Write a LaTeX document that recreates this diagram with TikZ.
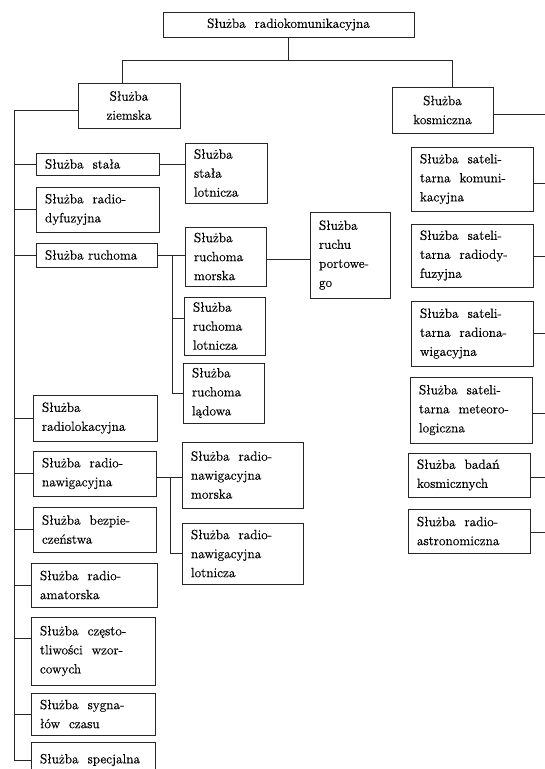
\documentclass[tikz,border=0pt]{standalone}
\usepackage{fontspec}
\newfontfamily\scanfont{Latin Modern Roman}[FakeBold=0.35]
\begin{document}
\begin{tikzpicture}[x=1pt,y=-1pt,
  svc/.style={draw=black!85, line width=0.85pt, inner xsep=9pt, inner ysep=0pt,
              align=left, font=\scanfont\fontsize{13.4}{19}\selectfont},
  hub/.style={svc, align=center},
  wire/.style={draw=black!85, line width=0.85pt}]
% service box: style, name, left, top, right, bottom, text
\newcommand\svcbox[7]{%
  \pgfmathsetmacro\bw{#5-#3}%
  \pgfmathsetmacro\bh{#6-#4}%
  \pgfmathsetmacro\tw{#5-#3-18}%
  \node[#1, text width=\tw pt, minimum width=\bw pt, minimum height=\bh pt]
    (#2) at ({(#3+#5)/2},{(#4+#6)/2}) {#7};}

\clip (0,0) rectangle (545,769);
\fill[white] (0,0) rectangle (545,769);

% root and the two main branches
\svcbox{hub}{top}{163}{12}{414}{37}{Służba\ \ radiokomunikacyjna}
\svcbox{hub}{zi}{78}{83}{180}{128}{Służba\\ziemska}
\svcbox{hub}{ko}{392}{87}{493}{133}{Służba\\kosmiczna}

% terrestrial services
\svcbox{svc}{st}{36}{153}{159}{175}{Służba\ \ stała}
\svcbox{svc}{rdf}{36}{187}{159}{232}{Służba\ \ radio-\\dyfuzyjna}
\svcbox{svc}{ru}{36}{243}{157}{267}{Służba ruchoma}
\svcbox{svc}{rlk}{33}{395}{157}{441}{Służba\\radiolokacyjna}
\svcbox{svc}{rn}{33}{451}{156}{496}{Służba\ \ radio-\\nawigacyjna}
\svcbox{svc}{bz}{33}{507}{156}{552}{Służba\ \ bezpie-\\czeństwa}
\svcbox{svc}{am}{31}{563}{157}{607}{Służba\ \ radio-\\amatorska}
\svcbox{svc}{cz}{31}{617}{155}{685}{Służba\ \ często-\\tliwości\ \ wzor-\\cowych}
\svcbox{svc}{sy}{31}{693}{155}{735}{Służba\ \ sygna-\\łów\ \ czasu}
\svcbox{svc}{sp}{31}{742}{155}{778}{Służba\ \ specjalna}

% second-level terrestrial services
\svcbox{svc}{stl}{185}{143}{267}{203}{Służba\\stała\\lotnicza}
\svcbox{svc}{rm}{185}{227}{266}{286}{Służba\\ruchoma\\morska}
\svcbox{svc}{rp}{310}{212}{390}{298}{Służba\\ruchu\\portowe-\\go}
\svcbox{svc}{rl}{184}{297}{265}{355}{Służba\\ruchoma\\lotnicza}
\svcbox{svc}{rd}{183}{363}{264}{423}{Służba\\ruchoma\\lądowa}
\svcbox{svc}{rnm}{182}{442}{303}{508}{Służba\ \ radio-\\nawigacyjna\\morska}
\svcbox{svc}{rnl}{182}{523}{303}{584}{Służba\ \ radio-\\nawigacyjna\\lotnicza}

% space services
\svcbox{svc}{s1}{411}{147}{533}{211}{Służba\ \ sateli-\\tarna\ \ komuni-\\kacyjna}
\svcbox{svc}{s2}{411}{224}{533}{287}{Służba\ \ sateli-\\tarna\ \ radiody-\\fuzyjna}
\svcbox{svc}{s3}{411}{301}{533}{366}{Służba\ \ sateli-\\tarna\ \ radiona-\\wigacyjna}
\svcbox{svc}{s4}{410}{377}{532}{443}{Służba\ \ sateli-\\tarna\ \ meteoro-\\logiczna}
\svcbox{svc}{s5}{408}{453}{530}{497}{Służba\ \ badań\\kosmicznych}
\svcbox{svc}{s6}{408}{509}{530}{553}{Służba\ \ radio-\\astronomiczna}

% root bus
\coordinate (hb) at (0,60);
\draw[wire] (top.south) -- (top.south |- hb);
\draw[wire] ([xshift=-7pt]zi.north) |- ([xshift=9.5pt]ko.north |- hb)
            -- ([xshift=9.5pt]ko.north);

% terrestrial bus
\coordinate (lb) at (14,0);
\draw[wire] ([yshift=-4.5pt]zi.west) -| (lb |- sp.west) -- (sp.west);
\foreach \n in {st,rdf,ru,rlk,rn,bz,am,sy}
  \draw[wire] (\n.west) -- (\n.west -| lb);
\draw[wire] ([yshift=13pt]cz.west) -- ([yshift=13pt]cz.west -| lb);

% second-level links
\draw[wire] (st.east) -- (st.east -| stl.west);
\draw[wire] (ru.east) -- (ru.east -| rm.west);
\coordinate (jr) at (172,0);
\draw[wire] (ru.east -| jr) |- (rd.west);
\draw[wire] ([yshift=8pt]rl.west) -- ([yshift=8pt]rl.west -| jr);
\draw[wire] ([yshift=-3pt]rm.east) -- ([yshift=-3pt]rm.east -| rp.west);
\draw[wire] ([yshift=-4pt]rn.east) -- ([yshift=-4pt]rn.east -| rnm.west);
\coordinate (jn) at (170,0);
\draw[wire] ([yshift=-4pt]rn.east -| jn) |- (rnl.west);

% space bus (runs on beyond the right edge)
\coordinate (rb) at (560,0);
\draw[wire] ([yshift=-4pt]ko.east) -- ([yshift=-4pt]ko.east -| rb);
\foreach \n/\d in {s1/-4,s2/-1,s3/0,s4/-3,s5/-2,s6/-1}
  \draw[wire] ([yshift=\d pt]\n.east) -- ([yshift=\d pt]\n.east -| rb);
\end{tikzpicture}
\end{document}
